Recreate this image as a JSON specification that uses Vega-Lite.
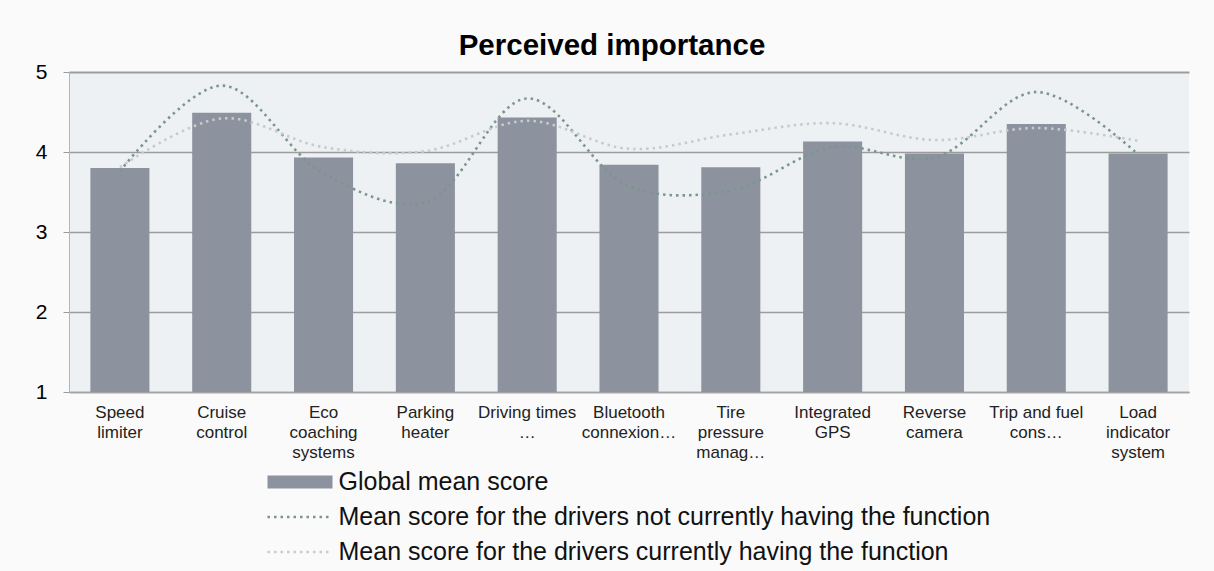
{
  "$schema": "https://vega.github.io/schema/vega-lite/v6.json",
  "autosize": {"type": "none"},
  "width": 1120,
  "height": 320,
  "padding": {"left": 69, "top": 72, "right": 25, "bottom": 179},
  "background": "#fafafa",
  "title": {
    "text": "Perceived importance",
    "font": "Liberation Sans",
    "fontSize": 29.5,
    "fontWeight": "bold",
    "color": "#000000",
    "anchor": "middle",
    "baseline": "alphabetic",
    "offset": 17,
    "dx": -17,
    "dy": 40
  },
  "config": {
    "view": {"fill": "#eef1f3", "stroke": null},
    "font": "Liberation Sans"
  },
  "data": {
    "values": [
      {"feature": "Speed|limiter", "series": "Global mean score", "score": 3.80},
      {"feature": "Cruise|control", "series": "Global mean score", "score": 4.49},
      {"feature": "Eco|coaching|systems", "series": "Global mean score", "score": 3.93},
      {"feature": "Parking|heater", "series": "Global mean score", "score": 3.86},
      {"feature": "Driving times|…", "series": "Global mean score", "score": 4.43},
      {"feature": "Bluetooth|connexion…", "series": "Global mean score", "score": 3.84},
      {"feature": "Tire|pressure|manag…", "series": "Global mean score", "score": 3.81},
      {"feature": "Integrated|GPS", "series": "Global mean score", "score": 4.13},
      {"feature": "Reverse|camera", "series": "Global mean score", "score": 3.98},
      {"feature": "Trip and fuel|cons…", "series": "Global mean score", "score": 4.35},
      {"feature": "Load|indicator|system", "series": "Global mean score", "score": 3.98},
      {"feature": "Speed|limiter", "series": "Mean score for the drivers not currently having the function", "score": 3.76},
      {"feature": "Cruise|control", "series": "Mean score for the drivers not currently having the function", "score": 4.83},
      {"feature": "Eco|coaching|systems", "series": "Mean score for the drivers not currently having the function", "score": 3.73},
      {"feature": "Parking|heater", "series": "Mean score for the drivers not currently having the function", "score": 3.37},
      {"feature": "Driving times|…", "series": "Mean score for the drivers not currently having the function", "score": 4.67},
      {"feature": "Bluetooth|connexion…", "series": "Mean score for the drivers not currently having the function", "score": 3.57},
      {"feature": "Tire|pressure|manag…", "series": "Mean score for the drivers not currently having the function", "score": 3.52},
      {"feature": "Integrated|GPS", "series": "Mean score for the drivers not currently having the function", "score": 4.06},
      {"feature": "Reverse|camera", "series": "Mean score for the drivers not currently having the function", "score": 3.93},
      {"feature": "Trip and fuel|cons…", "series": "Mean score for the drivers not currently having the function", "score": 4.75},
      {"feature": "Load|indicator|system", "series": "Mean score for the drivers not currently having the function", "score": 3.97},
      {"feature": "Speed|limiter", "series": "Mean score for the drivers currently having the function", "score": 3.81},
      {"feature": "Cruise|control", "series": "Mean score for the drivers currently having the function", "score": 4.42},
      {"feature": "Eco|coaching|systems", "series": "Mean score for the drivers currently having the function", "score": 4.06},
      {"feature": "Parking|heater", "series": "Mean score for the drivers currently having the function", "score": 4.01},
      {"feature": "Driving times|…", "series": "Mean score for the drivers currently having the function", "score": 4.39},
      {"feature": "Bluetooth|connexion…", "series": "Mean score for the drivers currently having the function", "score": 4.04},
      {"feature": "Tire|pressure|manag…", "series": "Mean score for the drivers currently having the function", "score": 4.22},
      {"feature": "Integrated|GPS", "series": "Mean score for the drivers currently having the function", "score": 4.36},
      {"feature": "Reverse|camera", "series": "Mean score for the drivers currently having the function", "score": 4.15},
      {"feature": "Trip and fuel|cons…", "series": "Mean score for the drivers currently having the function", "score": 4.30},
      {"feature": "Load|indicator|system", "series": "Mean score for the drivers currently having the function", "score": 4.14}
    ]
  },
  "encoding": {
    "x": {
      "field": "feature",
      "type": "nominal",
      "sort": null,
      "scale": {"paddingInner": 0.42, "paddingOuter": 0.21},
      "axis": {
        "title": null,
        "labelAngle": 0,
        "labelExpr": "split(datum.value, '|')",
        "labelFont": "Liberation Sans",
        "labelFontSize": 17,
        "labelLineHeight": 20,
        "labelColor": "#222222",
        "labelBaseline": "top",
        "labelPadding": 12,
        "ticks": false,
        "tickSize": 0,
        "domainColor": "#a3a3a3",
        "domainWidth": 1.5
      }
    },
    "color": {
      "field": "series",
      "type": "nominal",
      "scale": {
        "domain": [
          "Global mean score",
          "Mean score for the drivers not currently having the function",
          "Mean score for the drivers currently having the function"
        ],
        "range": ["#8c929e", "#7b968c", "#c6cbce"]
      },
      "legend": {
        "title": null,
        "orient": "none",
        "legendX": 198,
        "legendY": 398,
        "padding": 0,
        "symbolType": "stroke",
        "symbolSize": 4225,
        "symbolStrokeWidth": 2.5,
        "symbolOffset": 20.5,
        "clipHeight": 24,
        "rowPadding": 10,
        "labelOffset": 26,
        "labelFont": "Liberation Sans",
        "labelFontSize": 25,
        "labelColor": "#111111",
        "labelLimit": 900,
        "encode": {
          "symbols": {
            "update": {
              "strokeWidth": {"signal": "datum.value === 'Global mean score' ? 13 : 2.5"},
              "strokeDash": {"signal": "datum.value === 'Global mean score' ? [] : [2.5, 4]"},
              "opacity": {"value": 1}
            }
          }
        }
      }
    }
  },
  "layer": [
    {
      "transform": [{"filter": "datum.series === 'Global mean score'"}],
      "mark": {"type": "bar"},
      "encoding": {
        "y": {
          "field": "score",
          "type": "quantitative",
          "scale": {"domain": [1, 5], "zero": false, "nice": false},
          "axis": {
            "title": null,
            "values": [1, 1.5, 2, 2.5, 3, 3.5, 4, 4.5, 5],
            "labelExpr": "datum.value % 1 === 0 ? format(datum.value, 'd') : ''",
            "labelFont": "Liberation Sans",
            "labelFontSize": 21,
            "labelColor": "#000000",
            "labelPadding": 16,
            "tickSize": 6,
            "tickColor": "#9a9a9a",
            "domainColor": "#b5b5b5",
            "grid": true,
            "gridColor": {"condition": {"test": "datum.value % 1 === 0", "value": "#9c9c9c"}, "value": "#cbcfd2"},
            "gridWidth": {"condition": {"test": "datum.value === 5", "value": 2}, "value": 1.3}
          }
        },
        "y2": {"datum": 1}
      }
    },
    {
      "transform": [{"filter": "datum.series !== 'Global mean score'"}],
      "mark": {"type": "line", "interpolate": "catmull-rom", "strokeDash": [2.5, 4], "strokeWidth": 2.6},
      "encoding": {
        "y": {"field": "score", "type": "quantitative"}
      }
    }
  ]
}
